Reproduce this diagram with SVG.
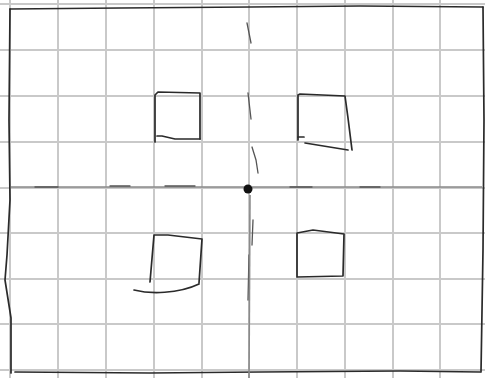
<svg xmlns="http://www.w3.org/2000/svg" width="485" height="378" viewBox="0 0 485 378">
<style>
.grid line{stroke:#c9c9c9;stroke-width:2}
.ink{fill:none;stroke:#2a2a2a;stroke-width:1.7;stroke-linecap:round;stroke-linejoin:round}
.faint{fill:none;stroke:#555;stroke-width:1.3;stroke-linecap:round}
.axis{fill:none;stroke:#8a8a8a;stroke-width:1.6}
</style>
<rect width="485" height="378" fill="#ffffff"/>
<g class="grid">
<line x1="10" y1="0" x2="10" y2="378"/>
<line x1="58" y1="0" x2="58" y2="378"/>
<line x1="106" y1="0" x2="106" y2="378"/>
<line x1="154" y1="0" x2="154" y2="378"/>
<line x1="202" y1="0" x2="202" y2="378"/>
<line x1="249" y1="0" x2="249" y2="378"/>
<line x1="297" y1="0" x2="297" y2="378"/>
<line x1="345" y1="0" x2="345" y2="378"/>
<line x1="393" y1="0" x2="393" y2="378"/>
<line x1="440" y1="0" x2="440" y2="378"/>
<line x1="0" y1="4" x2="485" y2="4"/>
<line x1="0" y1="50" x2="485" y2="50"/>
<line x1="0" y1="96" x2="485" y2="96"/>
<line x1="0" y1="142" x2="485" y2="142"/>
<line x1="0" y1="188" x2="485" y2="188"/>
<line x1="0" y1="233" x2="485" y2="233"/>
<line x1="0" y1="279" x2="485" y2="279"/>
<line x1="0" y1="324" x2="485" y2="324"/>
<line x1="0" y1="370" x2="485" y2="370"/>
</g>
<g id="border">
<path class="ink" d="M10 9 L120 8 L250 7 L360 6 L483 7"/>
<path class="ink" d="M483 7 L484 120 L483 250 L481 372"/>
<path class="ink" d="M10 9 L9 120 L10 200 L7 255 L5 280 L11 318 L11 373"/>
<path class="ink" d="M15 372 L150 373 L260 372 L400 371 L480 372"/>
</g>
<g id="center-axes">
<path class="axis" d="M11 187 L245 187 M252 187 L482 187"/>
<path class="faint" d="M35 187 L58 187 M110 186 L130 186 M165 186 L195 186 M290 187 L312 187 M360 187 L380 187"/>
<path class="faint" d="M247 23 L251 43 M248 93 L251 119 M252 147 L256 160 L258 173 M253 220 L252 245 M249 255 L248 300"/>
<path class="axis" d="M250 195 L249 378"/>
<circle cx="248" cy="189" r="4.5" fill="#111"/>
</g>
<g id="square-top-left">
<path class="ink" d="M155 142 L155 95 L158 92 L200 93 L200 139"/>
<path class="ink" d="M157 136 L162 136 L175 139 L200 139"/>
</g>
<g id="square-top-right">
<path class="ink" d="M298 140 L298 95 L300 94 L345 96 L348 118 L352 150"/>
<path class="ink" d="M298 137 L304 137"/>
<path class="ink" d="M305 143 L348 150"/>
</g>
<g id="square-bottom-left">
<path class="ink" d="M150 282 L154 235 L168 235 L202 239 L199 283"/>
<path class="ink" d="M134 290 C150 294 178 294 199 284"/>
</g>
<g id="square-bottom-right">
<path class="ink" d="M297 277 L297 233 L313 230 L344 234 L343 276 L297 277"/>
</g>
</svg>
